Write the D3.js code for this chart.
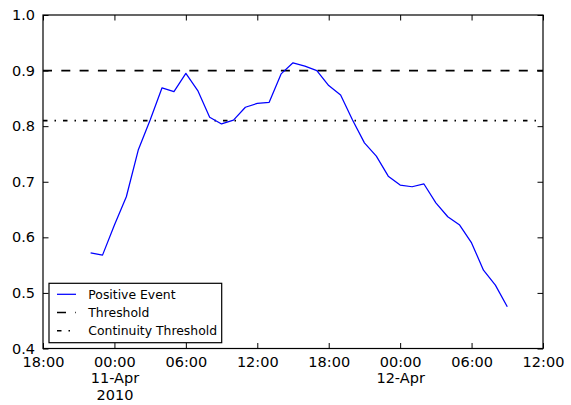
<!DOCTYPE html>
<html>
<head>
<meta charset="utf-8">
<script src="https://cdn.jsdelivr.net/npm/d3@7"></script>
<style>
  html, body { margin: 0; padding: 0; background: #fff; }
  svg { display: block; }
  text { font-family: "DejaVu Sans", sans-serif; fill: #000; }
</style>
</head>
<body>
<svg id="chart" width="571" height="405"></svg>
<script>
// Hourly readings of the positive-event score
const times = [
  "2010-04-10T22:00", "2010-04-10T23:00",
  "2010-04-11T00:00", "2010-04-11T01:00", "2010-04-11T02:00", "2010-04-11T03:00",
  "2010-04-11T04:00", "2010-04-11T05:00", "2010-04-11T06:00", "2010-04-11T07:00",
  "2010-04-11T08:00", "2010-04-11T09:00", "2010-04-11T10:00", "2010-04-11T11:00",
  "2010-04-11T12:00", "2010-04-11T13:00", "2010-04-11T14:00", "2010-04-11T15:00",
  "2010-04-11T16:00", "2010-04-11T17:00", "2010-04-11T18:00", "2010-04-11T19:00",
  "2010-04-11T20:00", "2010-04-11T21:00", "2010-04-11T22:00", "2010-04-11T23:00",
  "2010-04-12T00:00", "2010-04-12T01:00", "2010-04-12T02:00", "2010-04-12T03:00",
  "2010-04-12T04:00", "2010-04-12T05:00", "2010-04-12T06:00", "2010-04-12T07:00",
  "2010-04-12T08:00", "2010-04-12T09:00"
];
const positiveEvent = [
  0.572, 0.568,
  0.622, 0.673, 0.757, 0.811, 0.869, 0.862, 0.895, 0.864,
  0.816, 0.804, 0.811, 0.834, 0.841, 0.843, 0.894, 0.914,
  0.908, 0.900, 0.873, 0.856, 0.811, 0.770, 0.746, 0.710,
  0.694, 0.691, 0.696, 0.662, 0.637, 0.622, 0.590, 0.541,
  0.514, 0.475
];
const threshold = 0.9;
const continuityThreshold = 0.81;

const xDomain = ["2010-04-10T18:00", "2010-04-12T12:00"];
const yDomain = [0.4, 1.0];
const yTicks = [0.4, 0.5, 0.6, 0.7, 0.8, 0.9, 1.0];
const legendLabels = ["Positive Event", "Threshold", "Continuity Threshold"];

const parse = d3.utcParse("%Y-%m-%dT%H:%M");
const data = times.map((t, i) => ({ t: parse(t), v: positiveEvent[i] }));

const plot = { left: 43, right: 543, top: 15, bottom: 348.5 };
const svg = d3.select("#chart");

const x = d3.scaleUtc().domain(xDomain.map(parse)).range([plot.left, plot.right]);
const y = d3.scaleLinear().domain(yDomain).range([plot.bottom, plot.top]);

const tickFont = "14.5px";
const tickLen = 5.5;
const xTickValues = x.ticks(d3.utcHour.every(6));

// tick label: time, plus date on midnights, plus year on the first one
const fmtTime = d3.utcFormat("%H:%M");
const fmtDay = d3.utcFormat("%d-%b");
const fmtYear = d3.utcFormat("%Y");
function xLabelLines(d) {
  const lines = [fmtTime(d)];
  if (d.getUTCHours() === 0) {
    lines.push(fmtDay(d));
    const firstMidnight = xTickValues.find(t => t.getUTCHours() === 0);
    if (+d === +firstMidnight) lines.push(fmtYear(d));
  }
  return lines;
}

// bottom axis
const gx = svg.append("g")
  .attr("transform", `translate(0,${plot.bottom})`)
  .call(d3.axisBottom(x).tickValues(xTickValues).tickSize(-tickLen).tickPadding(7.9));
gx.select(".domain").remove();
gx.selectAll("text").each(function (d) {
  const t = d3.select(this).text(null).style("font-size", tickFont);
  xLabelLines(d).forEach((s, i) => {
    t.append("tspan").attr("x", 0).attr("dy", i === 0 ? "0.71em" : "16.5px").text(s);
  });
});

// top axis (mirrored ticks)
const gxt = svg.append("g")
  .attr("transform", `translate(0,${plot.top})`)
  .call(d3.axisTop(x).tickValues(xTickValues).tickSize(-tickLen).tickFormat(""));
gxt.select(".domain").remove();

// left axis
const gy = svg.append("g")
  .attr("transform", `translate(${plot.left},0)`)
  .call(d3.axisLeft(y).tickValues(yTicks).tickSize(-tickLen).tickPadding(8).tickFormat(d3.format(".1f")));
gy.select(".domain").remove();
gy.selectAll("text").style("font-size", tickFont);

// right axis (mirrored ticks)
const gyr = svg.append("g")
  .attr("transform", `translate(${plot.right},0)`)
  .call(d3.axisRight(y).tickValues(yTicks).tickSize(-tickLen).tickFormat(""));
gyr.select(".domain").remove();

svg.selectAll(".tick line").attr("stroke", "#000").attr("stroke-width", 1);

// threshold lines
svg.append("line")
  .attr("x1", plot.left).attr("x2", plot.right)
  .attr("y1", y(threshold)).attr("y2", y(threshold))
  .attr("stroke", "#000").attr("stroke-width", 1.6)
  .attr("stroke-dasharray", "9,9.3");

svg.append("line")
  .attr("x1", plot.left).attr("x2", plot.right)
  .attr("y1", y(continuityThreshold)).attr("y2", y(continuityThreshold))
  .attr("stroke", "#000").attr("stroke-width", 1.6)
  .attr("stroke-dasharray", "4.5,7,1.5,7");

// positive event series
svg.append("path")
  .datum(data)
  .attr("fill", "none")
  .attr("stroke", "#0000ff")
  .attr("stroke-width", 1.25)
  .attr("stroke-linejoin", "round")
  .attr("d", d3.line().x(d => x(d.t)).y(d => y(d.v)));

// frame
svg.append("rect")
  .attr("x", plot.left).attr("y", plot.top)
  .attr("width", plot.right - plot.left).attr("height", plot.bottom - plot.top)
  .attr("fill", "none").attr("stroke", "#000").attr("stroke-width", 1.2);

// legend
const legend = svg.append("g");
legend.append("rect")
  .attr("x", 49).attr("y", 283.3).attr("width", 172.7).attr("height", 59.4)
  .attr("fill", "#fff").attr("stroke", "#000").attr("stroke-width", 1.2);

const legendStyles = [
  { stroke: "#0000ff", width: 1.25, dash: null },
  { stroke: "#000", width: 1.6, dash: "9,9.3" },
  { stroke: "#000", width: 1.6, dash: "4.5,7,1.5,7" }
];
legendLabels.forEach((label, i) => {
  const cy = 294.3 + i * 18.2;
  legend.append("line")
    .attr("x1", 57).attr("x2", 76).attr("y1", cy).attr("y2", cy)
    .attr("stroke", legendStyles[i].stroke)
    .attr("stroke-width", legendStyles[i].width)
    .attr("stroke-dasharray", legendStyles[i].dash);
  legend.append("text")
    .attr("x", 88.3).attr("y", cy + 4.5)
    .style("font-size", "12.4px")
    .text(label);
});
</script>
</body>
</html>
